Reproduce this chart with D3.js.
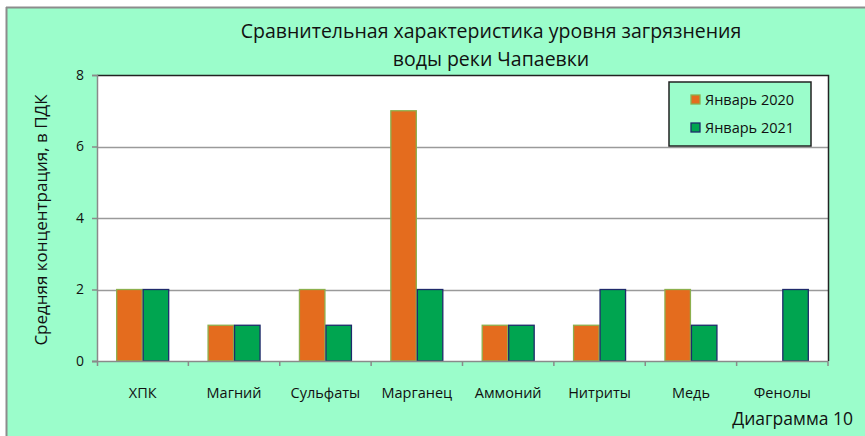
<!DOCTYPE html>
<html>
<head>
<meta charset="utf-8">
<script src="https://cdn.jsdelivr.net/npm/d3@7"></script>
<style>
  html, body { margin: 0; padding: 0; background: #fff; }
  svg { display: block; font-family: "Open Sans", "Noto Sans", sans-serif; }
</style>
</head>
<body>
<svg id="chart" width="865" height="436"></svg>
<script>
// data
var categories = ["ХПК", "Магний", "Сульфаты", "Марганец", "Аммоний", "Нитриты", "Медь", "Фенолы"];
var series = ["Январь 2020", "Январь 2021"];
var jan2020 = [2, 1, 2, 7, 1, 1, 2, 0];
var jan2021 = [2, 1, 1, 2, 1, 2, 1, 2];
var yTicks = [0, 2, 4, 6, 8];

var fills = ["#E46C1E", "#00A550"];
var strokes = ["#8DB04E", "#1F2A6B"];

var svg = d3.select("#chart");
var W = 865, H = 436;
var m = { left: 97, top: 75, right: 828, bottom: 361 };

// outer frame
svg.append("rect").attr("x", 6).attr("y", 7).attr("width", W - 6).attr("height", H - 7)
  .attr("fill", "#9BFDCB");
svg.append("line").attr("x1", 6).attr("x2", W).attr("y1", 7.5).attr("y2", 7.5)
  .attr("stroke", "#8c8c8c").attr("stroke-width", 2);
svg.append("line").attr("x1", 6.5).attr("x2", 6.5).attr("y1", 7).attr("y2", H)
  .attr("stroke", "#8c8c8c").attr("stroke-width", 2);

// scales
var x0 = d3.scaleBand().domain(categories).range([m.left, m.right])
  .paddingInner(0.42).paddingOuter(0.21);
var x1 = d3.scaleBand().domain(series).range([0, x0.bandwidth()]);
var y = d3.scaleLinear().domain([0, 8]).range([m.bottom, m.top]);

// plot area
svg.append("rect").attr("x", m.left).attr("y", m.top)
  .attr("width", m.right - m.left).attr("height", m.bottom - m.top)
  .attr("fill", "#fff");

// grid
svg.append("g").selectAll("line").data(yTicks.filter(function(d){ return d > 0 && d < 8; }))
  .enter().append("line")
  .attr("x1", m.left).attr("x2", m.right)
  .attr("y1", function(d){ return Math.round(y(d)) + 0.5; })
  .attr("y2", function(d){ return Math.round(y(d)) + 0.5; })
  .attr("stroke", "#9a9a9a").attr("stroke-width", 1.5);

// top and right border
svg.append("path")
  .attr("d", "M" + m.left + "," + (m.top + 0.5) + "H" + (m.right + 0.5) + "V" + m.bottom)
  .attr("fill", "none").attr("stroke", "#222").attr("stroke-width", 1.5);

// bars
var rows = categories.map(function(c, i){ return { cat: c, vals: [jan2020[i], jan2021[i]] }; });
var groups = svg.append("g").selectAll("g").data(rows).enter().append("g")
  .attr("transform", function(d){ return "translate(" + x0(d.cat) + ",0)"; });
groups.selectAll("rect").data(function(d){
    return d.vals.map(function(v, k){ return { s: series[k], v: v, k: k }; }).filter(function(e){ return e.v > 0; });
  })
  .enter().append("rect")
  .attr("x", function(d){ return x1(d.s) + 0.5; })
  .attr("y", function(d){ return y(d.v); })
  .attr("width", x1.bandwidth() - 1)
  .attr("height", function(d){ return y(0) - y(d.v); })
  .attr("fill", function(d){ return fills[d.k]; })
  .attr("stroke", function(d){ return strokes[d.k]; })
  .attr("stroke-width", 1.3);

// y axis
var yAxis = svg.append("g").attr("transform", "translate(" + m.left + ",0)")
  .call(d3.axisLeft(y).tickValues(yTicks).tickSize(5).tickPadding(8).tickFormat(d3.format("d")));
yAxis.select(".domain").attr("stroke", "#8a8a8a").attr("stroke-width", 1.5);
yAxis.selectAll(".tick line").attr("stroke", "#8a8a8a").attr("stroke-width", 1.5);
yAxis.selectAll("text").attr("font-size", 14).attr("fill", "#111").attr("font-family", "Open Sans, sans-serif");

// x axis
svg.append("line").attr("x1", m.left - 5).attr("x2", m.right).attr("y1", m.bottom + 0.5).attr("y2", m.bottom + 0.5)
  .attr("stroke", "#8a8a8a").attr("stroke-width", 1.5);
var step = x0.step();
svg.append("g").selectAll("line").data(categories).enter().append("line")
  .attr("x1", function(d, i){ return m.left + step * (i + 1); })
  .attr("x2", function(d, i){ return m.left + step * (i + 1); })
  .attr("y1", m.bottom).attr("y2", m.bottom + 5)
  .attr("stroke", "#8a8a8a").attr("stroke-width", 1.5);
svg.append("line").attr("x1", m.left + 0.5).attr("x2", m.left + 0.5).attr("y1", m.bottom).attr("y2", m.bottom + 5)
  .attr("stroke", "#8a8a8a").attr("stroke-width", 1.5);
svg.append("g").selectAll("text").data(categories).enter().append("text")
  .attr("x", function(d){ return x0(d) + x0.bandwidth() / 2; })
  .attr("y", 398)
  .attr("text-anchor", "middle").attr("font-size", 14.5).attr("fill", "#111")
  .text(function(d){ return d; });

// y label
svg.append("text")
  .attr("transform", "translate(47,220) rotate(-90)")
  .attr("text-anchor", "middle").attr("font-size", 17).attr("fill", "#111")
  .text("Средняя концентрация, в ПДК");

// title
svg.append("text").attr("x", 491).attr("y", 38).attr("text-anchor", "middle")
  .attr("font-size", 19.5).attr("fill", "#111")
  .text("Сравнительная характеристика уровня загрязнения");
svg.append("text").attr("x", 491).attr("y", 66).attr("text-anchor", "middle")
  .attr("font-size", 19.5).attr("fill", "#111")
  .text("воды реки Чапаевки");

// legend
var lg = svg.append("g").attr("transform", "translate(669,82)");
lg.append("rect").attr("width", 142).attr("height", 64)
  .attr("fill", "#9BFDCB").attr("stroke", "#222").attr("stroke-width", 1.5);
series.forEach(function(s, k){
  lg.append("rect").attr("x", 22).attr("y", 13 + k * 28).attr("width", 9).attr("height", 9)
    .attr("fill", fills[k]).attr("stroke", strokes[k]).attr("stroke-width", 1.3);
  lg.append("text").attr("x", 36).attr("y", 23 + k * 28)
    .attr("font-size", 14.5).attr("fill", "#111").text(s);
});

// caption
svg.append("text").attr("x", 853).attr("y", 425).attr("text-anchor", "end")
  .attr("font-size", 17.5).attr("fill", "#111").text("Диаграмма 10");
</script>
</body>
</html>
